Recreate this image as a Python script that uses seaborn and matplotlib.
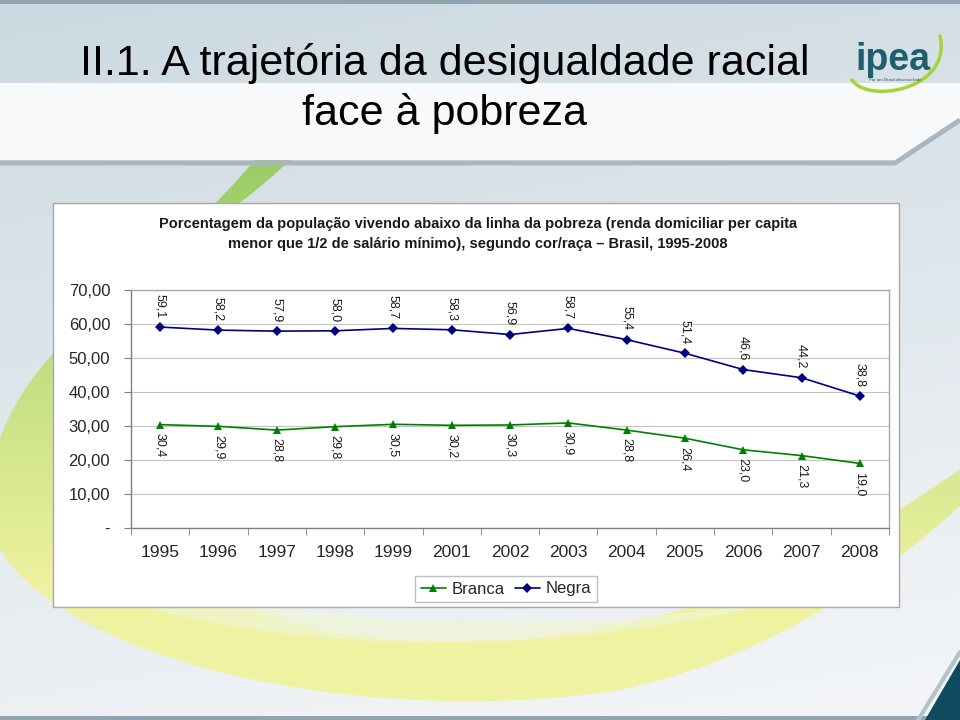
import numpy as np
import pandas as pd
import matplotlib
matplotlib.use('Agg')
import matplotlib.pyplot as plt
import seaborn as sns
from matplotlib import font_manager
from matplotlib.patches import Rectangle, Polygon
from matplotlib.lines import Line2D

# ---------------- data ----------------
anos = ['1995', '1996', '1997', '1998', '1999', '2001', '2002',
        '2003', '2004', '2005', '2006', '2007', '2008']
branca = [30.4, 29.9, 28.8, 29.8, 30.5, 30.2, 30.3, 30.9, 28.8, 26.4, 23.0, 21.3, 19.0]
negra = [59.1, 58.2, 57.9, 58.0, 58.7, 58.3, 56.9, 58.7, 55.4, 51.4, 46.6, 44.2, 38.8]
y_ticks = [0, 10, 20, 30, 40, 50, 60, 70]
y_labels = ['-', '10,00', '20,00', '30,00', '40,00', '50,00', '60,00', '70,00']
series_names = ['Branca', 'Negra']
titulo = 'II.1. A trajetória da desigualdade racial'
subtitulo = 'face à pobreza'
chart_title_1 = 'Porcentagem da população vivendo abaixo da linha da pobreza (renda domiciliar per capita'
chart_title_2 = 'menor que 1/2 de salário mínimo), segundo cor/raça – Brasil, 1995-2008'

sns.set_style('white')
plt.rcParams['font.family'] = ['Liberation Sans', 'DejaVu Sans']

avail = {f.name for f in font_manager.fontManager.ttflist}
narrow = 'Liberation Sans Narrow' in avail
title_family = ['Liberation Sans Narrow', 'DejaVu Sans'] if narrow else ['Liberation Sans', 'DejaVu Sans']
title_size = 36 if narrow else 31

fig = plt.figure(figsize=(9.6, 7.2), dpi=100)

# ---------------- slide background ----------------
bg = fig.add_axes([0, 0, 1, 1])
bg.set_xlim(0, 960)
bg.set_ylim(720, 0)
bg.axis('off')
H, W = 720, 960
yy, xx = np.mgrid[0:H, 0:W]
top = np.array([0.80, 0.85, 0.88])
bot = np.array([0.95, 0.96, 0.97])
t = np.clip((yy / H)[..., None] * 0.85 + (xx / W)[..., None] * 0.2, 0, 1)
img = top * (1 - t) + bot * t
bg.imshow(img, extent=(0, 960, 720, 0), aspect='auto', zorder=0)


def bez(p0, p1, p2, p3, n=80):
    s = np.linspace(0, 1, n)[:, None]
    p0, p1, p2, p3 = map(np.array, (p0, p1, p2, p3))
    return (1 - s) ** 3 * p0 + 3 * (1 - s) ** 2 * s * p1 + 3 * (1 - s) * s ** 2 * p2 + s ** 3 * p3


# big green -> yellow swoosh (crescent)
outer = np.vstack([
    bez((300, 150), (200, 255), (-5, 330), (-12, 500)),
    bez((-12, 500), (-20, 640), (330, 735), (620, 690)),
    bez((620, 690), (760, 660), (880, 585), (985, 482)),
])
inner = np.vstack([
    bez((985, 452), (860, 540), (720, 632), (480, 640)),
    bez((480, 640), (250, 650), (90, 560), (80, 400)),
    bez((80, 400), (80, 300), (200, 235), (262, 150)),
])
cres = Polygon(np.vstack([outer, inner]), closed=True, facecolor='none', edgecolor='none')
bg.add_patch(cres)
tg = np.clip((yy - 160) / 430.0, 0, 1)[..., None]
green = np.array([0.60, 0.80, 0.40])
yellow = np.array([0.94, 0.95, 0.63])
grad = green * (1 - tg) + yellow * tg
gim = bg.imshow(grad, extent=(0, 960, 720, 0), aspect='auto', zorder=1)
gim.set_clip_path(cres)
# paler inner stripe under the chart box
stripe = np.vstack([
    bez((120, 600), (300, 655), (560, 660), (800, 596)),
    bez((800, 596), (600, 635), (320, 630), (120, 580)),
])
bg.add_patch(Polygon(stripe, closed=True, facecolor='#f1f5d6', edgecolor='none', alpha=0.7, zorder=1.5))

# title band
bg.add_patch(Polygon([(0, 83), (960, 83), (960, 118), (897, 160), (0, 160)],
                     closed=True, facecolor='#f7f9fa', edgecolor='none', zorder=2))
bg.plot([0, 895, 960], [163, 163, 120], color='#a9b6c1', lw=3.5, zorder=3, solid_capstyle='butt')
bg.add_patch(Rectangle((0, 0), 960, 4, facecolor='#93a4b1', edgecolor='none', zorder=3))
bg.add_patch(Rectangle((0, 716), 960, 4, facecolor='#93a4b1', edgecolor='none', zorder=3))
# dark corner
bg.plot([918, 960], [720, 652], color='#b4c2cc', lw=3, zorder=3)
bg.add_patch(Polygon([(925, 720), (960, 720), (960, 660)], closed=True,
                     facecolor='#0f4b5e', edgecolor='none', zorder=3))

# main title
bg.text(445, 63, titulo, ha='center', va='center', fontsize=title_size,
        family=title_family, color='black', zorder=4)
bg.text(445, 113, subtitulo, ha='center', va='center', fontsize=title_size,
        family=title_family, color='black', zorder=4)

# logo
sw = bez((852, 80), (868, 104), (952, 90), (940, 36))
bg.plot(sw[:, 0], sw[:, 1], color='#a6d23c', lw=2.5, zorder=4)
bg.text(893, 60, 'ipea', ha='center', va='center', fontsize=27, fontweight='bold',
        color='#1d5f6f', zorder=5)
bg.text(895, 80, 'Por um Brasil desenvolvido', ha='center', va='center', fontsize=3.2,
        color='#1d5f6f', zorder=5)

# chart box
bg.add_patch(Rectangle((53, 203), 846, 404, facecolor='white', edgecolor='#a8a8a8',
                       lw=1, zorder=6))
bg.text(478, 224, chart_title_1, ha='center', va='center', fontsize=10.5,
        fontweight='bold', color='#1a1a1a', zorder=7)
bg.text(478, 244, chart_title_2, ha='center', va='center', fontsize=10.5,
        fontweight='bold', color='#1a1a1a', zorder=7)

# ---------------- chart ----------------
ax = fig.add_axes([131 / 960, (720 - 528) / 720, 758 / 960, 238 / 720])
ax.set_facecolor('white')

df = pd.DataFrame({
    'pos': list(range(len(anos))) * 2,
    'valor': branca + negra,
    'serie': [series_names[0]] * len(anos) + [series_names[1]] * len(anos),
})
colors = {'Branca': '#008000', 'Negra': '#000080'}
marks = {'Branca': '^', 'Negra': 'D'}
msize = {'Branca': 6, 'Negra': 5}
for name in series_names:
    sub = df[df['serie'] == name]
    sns.lineplot(data=sub, x='pos', y='valor', color=colors[name], marker=marks[name],
                 markersize=msize[name], markeredgewidth=0,
                 linewidth=1.2, ax=ax, legend=False)

for i, v in enumerate(negra):
    ax.annotate(f'{v:.1f}'.replace('.', ','), (i, v), xytext=(0, 6.5),
                textcoords='offset points', rotation=270, ha='center', va='bottom',
                fontsize=9, color='#1a1a1a')
for i, v in enumerate(branca):
    ax.annotate(f'{v:.1f}'.replace('.', ','), (i, v), xytext=(0, -6),
                textcoords='offset points', rotation=270, ha='center', va='top',
                fontsize=9, color='#1a1a1a')

ax.set_xlim(-0.5, len(anos) - 0.5)
ax.set_ylim(0, 70)
ax.set_xticks(range(len(anos)))
ax.set_xticklabels(anos, fontsize=12.5)
ax.set_xticks(np.arange(-0.5, len(anos), 1), minor=True)
ax.tick_params(axis='x', which='major', length=0, pad=12)
ax.tick_params(axis='x', which='minor', length=5, direction='out', color='#808080', bottom=True)
ax.set_yticks(y_ticks)
ax.set_yticklabels(y_labels, fontsize=12)
ax.tick_params(axis='y', which='major', length=5, direction='out', color='#808080', left=True, pad=10)
ax.set_xlabel('')
ax.set_ylabel('')
ax.yaxis.grid(True, color='#c4c4c4', lw=0.8)
ax.xaxis.grid(False)
ax.set_axisbelow(True)
for side in ['left', 'bottom']:
    ax.spines[side].set_color('#808080')
for side in ['top', 'right']:
    ax.spines[side].set_color('#a8a8a8')
for s in ax.spines.values():
    s.set_linewidth(1)
    s.set_visible(True)

handles = [Line2D([], [], color=colors[n], marker=marks[n], markersize=msize[n],
                  markeredgewidth=0, lw=1.2) for n in series_names]
leg = fig.legend(handles, series_names, loc='center', bbox_to_anchor=(506 / 960, 1 - 589 / 720),
                 ncol=2, fontsize=12, frameon=True, fancybox=False, edgecolor='#b0b0b0',
                 handlelength=1.5, handletextpad=0.35, columnspacing=0.6, borderpad=0.35)
leg.get_frame().set_linewidth(1)

fig.savefig('out.png', dpi=100)
